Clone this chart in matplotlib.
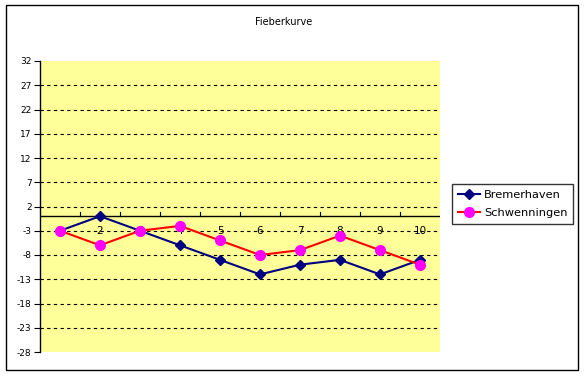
import matplotlib
matplotlib.use("Agg")
import numpy as np
import matplotlib.pyplot as plt
from matplotlib.patches import Rectangle

# data
days = [1, 2, 3, 4, 5, 6, 7, 8, 9, 10]
bremerhaven = [-3, 0, -3, -6, -9, -12, -10, -9, -12, -9]
schwenningen = [-3, -6, -3, -2, -5, -8, -7, -4, -7, -10]
yticks = [-28, -23, -18, -13, -8, -3, 2, 7, 12, 17, 22, 27, 32]

fig = plt.figure(figsize=(5.84, 3.77), dpi=100)
fig.patch.set_facecolor("white")

# outer chart frame
fig.patches.append(Rectangle((6/584, 7/377), 572/584, 365/377, transform=fig.transFigure,
                             fill=False, edgecolor="black", linewidth=1))

ax = fig.add_axes([40/584, 25/377, 400/584, 291/377])
ax.set_facecolor("#FFFF99")
ax.set_xlim(0.5, 10.5)
ax.set_ylim(-28, 32)

for s in ["top", "right", "bottom"]:
    ax.spines[s].set_visible(False)
ax.spines["left"].set_linewidth(1)

ax.set_yticks(yticks)
ax.set_yticklabels([str(t) for t in yticks], fontsize=6.5)
ax.tick_params(axis="y", length=4, width=0.8, pad=2)
ax.set_xticks([])

# dashed gridlines
for t in yticks[1:-1]:
    ax.axhline(t, color="black", linestyle=(0, (3, 3)), linewidth=0.8, zorder=1)

# category axis at zero
ax.axhline(0, color="black", linewidth=1, zorder=2)
for b in np.arange(1.5, 10.5, 1):
    ax.plot([b, b], [0, 0.8], color="black", linewidth=0.8, zorder=2)
for d in days:
    ax.text(d, -3, str(d), ha="center", va="center", fontsize=7.5, zorder=2)

ax.plot(days, bremerhaven, color="#000080", linewidth=1.5, marker="D", markersize=5.5,
        markerfacecolor="#000080", markeredgecolor="#000080", label="Bremerhaven", zorder=3)
ax.plot(days, schwenningen, color="#FF0000", linewidth=1.5, marker="o", markersize=7,
        markerfacecolor="#FF00FF", markeredgecolor="#FF00FF", label="Schwenningen", zorder=4)

fig.text(284/584, 1 - 22/377, "Fieberkurve", ha="center", va="center", fontsize=7)

leg = fig.legend(loc="upper left", bbox_to_anchor=(452/584, 1 - 184/377), fontsize=8.2,
                 frameon=True, fancybox=False, edgecolor="black", handlelength=2.0,
                 borderpad=0.5, labelspacing=0.75, handletextpad=0.3, borderaxespad=0)
leg.get_frame().set_linewidth(1)

plt.savefig("out.png", dpi=100)
